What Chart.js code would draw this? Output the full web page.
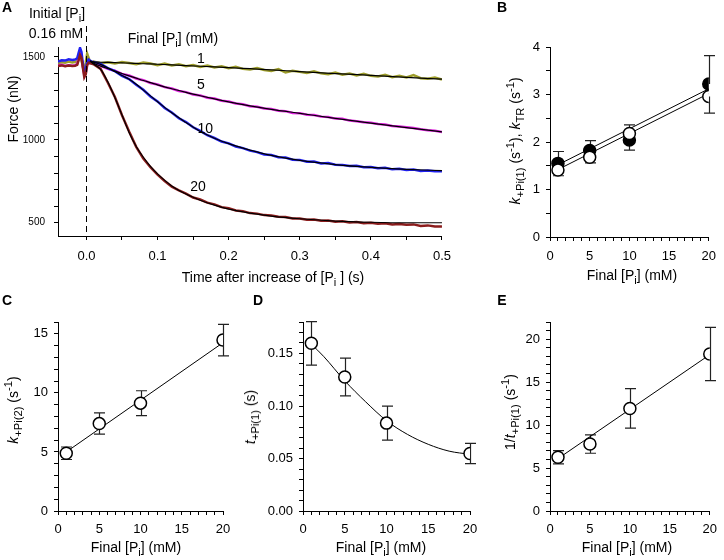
<!DOCTYPE html>
<html>
<head>
<meta charset="utf-8">
<script src="https://cdn.jsdelivr.net/npm/chart.js@4.4.0/dist/chart.umd.min.js"></script>
<style>
  body { margin: 0; background: #fff; }
  #fig { position: relative; width: 724px; height: 560px; overflow: hidden;
         font-family: "Liberation Sans", Arial, sans-serif; color: #000; background: #fff; }
  #fig canvas { position: absolute; }
  .t { position: absolute; white-space: nowrap; font-size: 14px; line-height: 1; transform: translate(-50%, -50%); }
  .rot { transform: translate(-50%, -50%) rotate(-90deg); }
  .pl { font-weight: bold; font-size: 14px; }
  sub, sup { font-size: 80%; line-height: 0; position: relative; vertical-align: baseline; }
  sub { bottom: -0.35em; }
  sup { top: -0.5em; }
</style>
</head>
<body>
<div id="fig">
  <canvas id="cA" width="460" height="270" style="left:0;top:0"></canvas>
  <canvas id="cB" width="254" height="270" style="left:470px;top:0"></canvas>
  <canvas id="cC" width="240" height="270" style="left:0;top:290px"></canvas>
  <canvas id="cD" width="245" height="270" style="left:240px;top:290px"></canvas>
  <canvas id="cE" width="239" height="270" style="left:485px;top:290px"></canvas>

  <div class="t pl" style="left:7px;top:7px">A</div>
  <div class="t pl" style="left:502px;top:7px">B</div>
  <div class="t pl" style="left:7px;top:300px">C</div>
  <div class="t pl" style="left:258px;top:300px">D</div>
  <div class="t pl" style="left:502px;top:300px">E</div>

  <div class="t" style="left:57px;top:13px">Initial [P<sub>i</sub>]</div>
  <div class="t" style="left:56px;top:33px">0.16 mM</div>
  <div class="t" style="left:173px;top:38px">Final [P<sub>i</sub>] (mM)</div>
  <div class="t rot" style="left:13px;top:109px">Force (nN)</div>
  <div class="t" style="left:273px;top:277px">Time after increase of [P<sub>i</sub> ] (s)</div>

  <div class="t rot" style="left:515px;top:141px"><i>k</i><sub>+Pi(1)</sub> (s<sup>-1</sup>), <i>k</i><sub>TR</sub> (s<sup>-1</sup>)</div>
  <div class="t" style="left:632px;top:275px">Final [P<sub>i</sub>] (mM)</div>

  <div class="t rot" style="left:13px;top:410px"><i>k</i><sub>+Pi(2)</sub> (s<sup>-1</sup>)</div>
  <div class="t" style="left:136px;top:547px">Final [P<sub>i</sub>] (mM)</div>

  <div class="t rot" style="left:250px;top:417px"><i>t</i><sub>+Pi(1)</sub> (s)</div>
  <div class="t" style="left:381px;top:547px">Final [P<sub>i</sub>] (mM)</div>

  <div class="t rot" style="left:510px;top:412px">1/<i>t</i><sub>+Pi(1)</sub> (s<sup>-1</sup>)</div>
  <div class="t" style="left:627px;top:547px">Final [P<sub>i</sub>] (mM)</div>
</div>

<script>
// ---- panel A: force after the [Pi] jump ----
const traceTime = [-0.04, -0.035, -0.03, -0.025, -0.02, -0.016, -0.013, -0.011, -0.009, -0.007, -0.005, -0.003, -0.001, 0.001, 0.003, 0.005, 0.008,
  0.01, 0.02, 0.03, 0.04, 0.05, 0.06, 0.07, 0.08, 0.09, 0.10,
  0.11, 0.12, 0.13, 0.14, 0.15, 0.16, 0.17, 0.18, 0.19, 0.20,
  0.21, 0.22, 0.23, 0.24, 0.25, 0.26, 0.27, 0.28, 0.29, 0.30,
  0.31, 0.32, 0.33, 0.34, 0.35, 0.36, 0.37, 0.38, 0.39, 0.40,
  0.41, 0.42, 0.43, 0.44, 0.45, 0.46, 0.47, 0.48, 0.49, 0.50];
const force1mM = [1462, 1468, 1465, 1472, 1466, 1470, 1474, 1490, 1505, 1480, 1440, 1425, 1465, 1520, 1495, 1470, 1466,
  1472, 1462, 1468, 1460, 1470, 1463, 1456, 1467, 1460, 1450,
  1460, 1449, 1456, 1444, 1451, 1440, 1448, 1436, 1444, 1432,
  1440, 1428, 1424, 1433, 1421, 1416, 1427, 1406, 1417, 1410,
  1403, 1414, 1401, 1396, 1406, 1393, 1400, 1388, 1398, 1386,
  1382, 1392, 1378, 1387, 1376, 1391, 1372, 1368, 1376, 1364];
const force5mM = [1448, 1452, 1446, 1450, 1447, 1450, 1458, 1490, 1518, 1500, 1440, 1390, 1405, 1455, 1470, 1468, 1462,
  1462, 1447, 1428, 1417, 1398, 1388, 1370, 1360, 1343, 1334,
  1318, 1310, 1295, 1288, 1274, 1268, 1254, 1249, 1236, 1231,
  1219, 1215, 1203, 1200, 1189, 1186, 1175, 1173, 1162, 1161,
  1152, 1150, 1140, 1138, 1128, 1127, 1116, 1112, 1106, 1103,
  1095, 1093, 1084, 1080, 1076, 1071, 1064, 1058, 1055, 1047];
const force10mM = [1472, 1480, 1478, 1486, 1482, 1484, 1492, 1525, 1555, 1530, 1460, 1405, 1420, 1470, 1484, 1478, 1470,
  1470, 1458, 1433, 1414, 1386, 1367, 1332, 1302, 1262, 1232,
  1192, 1165, 1130, 1107, 1076, 1054, 1028, 1011, 990, 979,
  960, 950, 935, 926, 912, 908, 895, 893, 880, 879,
  868, 869, 858, 860, 850, 849, 842, 844, 835, 836,
  829, 831, 822, 825, 818, 821, 812, 815, 810, 811];
const force20mM = [1446, 1449, 1444, 1448, 1445, 1447, 1452, 1480, 1512, 1495, 1435, 1378, 1395, 1450, 1465, 1462, 1458,
  1456, 1428, 1346, 1258, 1148, 1050, 958, 888, 835, 790,
  752, 718, 695, 676, 652, 640, 621, 611, 594, 588,
  574, 570, 558, 555, 546, 544, 536, 534, 526, 525,
  518, 520, 512, 514, 506, 509, 501, 504, 497, 500,
  494, 497, 490, 493, 488, 490, 481, 484, 477, 478];

const fitTime = [0.005, 0.01, 0.02, 0.03, 0.04, 0.05, 0.06, 0.07, 0.08, 0.09, 0.10, 0.12, 0.14, 0.16, 0.18, 0.20, 0.23, 0.26, 0.30, 0.35, 0.40, 0.45, 0.50];
const fit1mM = [1475, 1470, 1468, 1467, 1466, 1464, 1463, 1461, 1459, 1458, 1456, 1452, 1448, 1444, 1440, 1436, 1429, 1422, 1412, 1400, 1389, 1377, 1366];
const fit5mM = [1475, 1462, 1445, 1430, 1415, 1400, 1386, 1372, 1358, 1345, 1332, 1308, 1286, 1266, 1247, 1229, 1205, 1184, 1160, 1130, 1101, 1074, 1048];
const fit10mM = [1475, 1468, 1455, 1435, 1412, 1388, 1365, 1335, 1300, 1265, 1230, 1163, 1105, 1050, 1010, 977, 938, 906, 876, 851, 834, 822, 814];
const fit20mM = [1475, 1457, 1425, 1350, 1255, 1150, 1045, 960, 895, 840, 795, 722, 673, 636, 606, 582, 558, 540, 524, 510, 503, 500, 500];

const forceTicks = [500, 1000, 1500];
const timeTicks = [0, 0.1, 0.2, 0.3, 0.4, 0.5];

// ---- panels B-E: rates vs final [Pi] ----
const finalPi = [1, 5, 10, 20];
const fitEnds = [1, 20];

const kPi1 = [1.55, 1.82, 2.04, 3.22];
const kPi1Up = [0.25, 0.21, 0, 0.6];
const kPi1Down = [0, 0, 0.21, 0];
const kPi1Fit = [1.52, 3.12];
const kTR = [1.41, 1.68, 2.18, 2.96];
const kTRUp = [0, 0, 0.18, 0];
const kTRDown = [0.12, 0.12, 0, 0.35];
const kTRFit = [1.42, 3.02];

const kPi2 = [4.89, 7.4, 9.13, 14.47];
const kPi2Err = [0.53, 0.9, 1.05, 1.33];
const kPi2Fit = [5.0, 14.25];

const tPi1 = [0.1597, 0.1276, 0.0837, 0.0548];
const tPi1Err = [0.0207, 0.018, 0.0162, 0.0096];
const tPi1FitX = [1, 2.5, 5, 7.5, 10, 12.5, 15, 17.5, 20];
const tPi1FitY = [0.159, 0.147, 0.124, 0.104, 0.086, 0.073, 0.0635, 0.057, 0.054];

const invTPi1 = [6.26, 7.79, 11.94, 18.28];
const invTPi1Err = [0.77, 1.07, 2.3, 3.1];
const invTPi1Fit = [6.1, 18.2];

const piTicks = [0, 5, 10, 15, 20];
const rateTicksB = [0, 1, 2, 3, 4];
const rateTicksC = [0, 5, 10, 15];
const timeTicksD = [0, 0.05, 0.10, 0.15];
const rateTicksE = [0, 5, 10, 15, 20];

const curveLabels = [
  { text: '1', t: 0.161, f: 1486 },
  { text: '5', t: 0.161, f: 1331 },
  { text: '10', t: 0.167, f: 1066 },
  { text: '20', t: 0.157, f: 717 }
];

const FONT = '"Liberation Sans", Arial, sans-serif';
Chart.defaults.font.family = FONT;
Chart.defaults.color = '#000';

const pts = (xs, ys) => xs.map((x, i) => ({ x, y: ys[i] }));

function axis(min, max, majors, minorStep, fmt, size, pad, fitSize, isX) {
  return {
    type: 'linear', min, max,
    border: { display: true, color: '#000', width: 1 },
    grid: { drawOnChartArea: false, drawTicks: true, tickLength: 4, color: '#000', lineWidth: 1 },
    ticks: {
      autoSkip: false, maxRotation: 0, padding: pad, color: '#000', font: { size },
      callback: v => majors.some(m => Math.abs(m - v) < 1e-9) ? fmt(v) : ''
    },
    afterBuildTicks: s => {
      const vals = [];
      for (let i = Math.ceil(min / minorStep - 1e-6); i * minorStep <= max + 1e-9; i++) {
        vals.push(+(i * minorStep).toFixed(6));
      }
      s.ticks = vals.map(v => ({ value: v }));
    },
    afterFit: s => { if (isX) s.height = fitSize; else s.width = fitSize; }
  };
}

const errorBars = {
  id: 'errorBars',
  beforeDatasetsDraw(chart) {
    const { ctx, scales: { x, y } } = chart;
    ctx.save();
    ctx.strokeStyle = '#222';
    ctx.lineWidth = 1.2;
    chart.data.datasets.forEach(ds => {
      if (!ds.errUp) return;
      ds.data.forEach((p, i) => {
        const px = Math.round(x.getPixelForValue(p.x)) + 0.5;
        const top = y.getPixelForValue(p.y + ds.errUp[i]);
        const bot = y.getPixelForValue(p.y - ds.errDown[i]);
        ctx.beginPath();
        ctx.moveTo(px, top); ctx.lineTo(px, bot);
        if (ds.errUp[i] > 0) { ctx.moveTo(px - 5.5, top); ctx.lineTo(px + 5.5, top); }
        if (ds.errDown[i] > 0) { ctx.moveTo(px - 5.5, bot); ctx.lineTo(px + 5.5, bot); }
        ctx.stroke();
      });
    });
    ctx.restore();
  }
};

const panelAMarks = {
  id: 'panelAMarks',
  afterDatasetsDraw(chart) {
    const { ctx, chartArea, scales: { x, y } } = chart;
    const px = Math.round(x.getPixelForValue(0)) + 0.5;
    ctx.save();
    ctx.strokeStyle = '#000';
    ctx.lineWidth = 1;
    ctx.setLineDash([6, 4]);
    ctx.beginPath();
    ctx.moveTo(px, 26);
    ctx.lineTo(px, chartArea.bottom);
    ctx.stroke();
    ctx.setLineDash([]);
    ctx.font = '14px ' + FONT;
    ctx.fillStyle = '#000';
    ctx.textAlign = 'center';
    ctx.textBaseline = 'middle';
    curveLabels.forEach(l => ctx.fillText(l.text, x.getPixelForValue(l.t), y.getPixelForValue(l.f)));
    ctx.restore();
  }
};

const baseOpts = (padding, scales) => ({
  responsive: false, animation: false, devicePixelRatio: 1,
  layout: { padding },
  plugins: { legend: { display: false }, tooltip: { enabled: false } },
  scales
});

const lineDs = (data, color, width, extra) => Object.assign({
  data, showLine: true, borderColor: color, borderWidth: width, pointRadius: 0, fill: false
}, extra || {});

const openPts = (data, up, down) => ({
  data, showLine: false, pointRadius: 6, pointBorderWidth: 1.5,
  pointBackgroundColor: '#fff', pointBorderColor: '#000', errUp: up, errDown: down
});

// panel A
new Chart(document.getElementById('cA'), {
  type: 'scatter',
  data: {
    datasets: [
      lineDs(pts(fitTime, fit1mM), '#000', 1.2, { cubicInterpolationMode: 'monotone' }),
      lineDs(pts(fitTime, fit5mM), '#000', 1.2, { cubicInterpolationMode: 'monotone' }),
      lineDs(pts(fitTime, fit10mM), '#000', 1.2, { cubicInterpolationMode: 'monotone' }),
      lineDs(pts(fitTime, fit20mM), '#000', 1.2, { cubicInterpolationMode: 'monotone' }),
      lineDs(pts(traceTime, force20mM), '#8b1c1c', 2.5),
      lineDs(pts(traceTime, force10mM), '#2020f0', 2.5),
      lineDs(pts(traceTime, force5mM), '#e020e0', 2.5),
      lineDs(pts(traceTime, force1mM), '#9e9e2c', 2.5)
    ]
  },
  options: baseOpts({ left: 0, top: 47, right: 14, bottom: 0 }, {
    x: axis(-0.04, 0.5, timeTicks, 0.05, v => v.toFixed(1), 13, 9, 34, true),
    y: axis(420, 1560, forceTicks, 100, v => String(v), 10, 9, 58, false)
  }),
  plugins: [panelAMarks]
});

// panel B
new Chart(document.getElementById('cB'), {
  type: 'scatter',
  data: {
    datasets: [
      openPts(pts(finalPi, kTR), kTRUp, kTRDown),
      Object.assign(openPts(pts(finalPi, kPi1), kPi1Up, kPi1Down), { pointBackgroundColor: '#000' }),
      lineDs(pts(fitEnds, kTRFit), '#000', 1),
      lineDs(pts(fitEnds, kPi1Fit), '#000', 1)
    ]
  },
  options: baseOpts({ left: 0, top: 47, right: 8, bottom: 0 }, {
    x: axis(0, 20, piTicks, 1, v => String(v), 13, 8, 33, true),
    y: axis(0, 4, rateTicksB, 0.5, v => String(v), 13, 6, 80, false)
  }),
  plugins: [errorBars]
});

// panel C
new Chart(document.getElementById('cC'), {
  type: 'scatter',
  data: {
    datasets: [
      openPts(pts(finalPi, kPi2), kPi2Err, kPi2Err),
      lineDs(pts(fitEnds, kPi2Fit), '#000', 1)
    ]
  },
  options: baseOpts({ left: 0, top: 32, right: 17, bottom: 0 }, {
    x: axis(0, 20, piTicks, 1, v => String(v), 13, 7, 49, true),
    y: axis(0, 16, rateTicksC, 1, v => String(v), 13, 6, 58, false)
  }),
  plugins: [errorBars]
});

// panel D
new Chart(document.getElementById('cD'), {
  type: 'scatter',
  data: {
    datasets: [
      openPts(pts(finalPi, tPi1), tPi1Err, tPi1Err),
      lineDs(pts(tPi1FitX, tPi1FitY), '#000', 1, { cubicInterpolationMode: 'monotone' })
    ]
  },
  options: baseOpts({ left: 0, top: 32, right: 15, bottom: 0 }, {
    x: axis(0, 20, piTicks, 1, v => String(v), 13, 7, 49, true),
    y: axis(0, 0.18, timeTicksD, 0.01, v => v.toFixed(2), 13, 6, 63, false)
  }),
  plugins: [errorBars]
});

// panel E
new Chart(document.getElementById('cE'), {
  type: 'scatter',
  data: {
    datasets: [
      openPts(pts(finalPi, invTPi1), invTPi1Err, invTPi1Err),
      lineDs(pts(fitEnds, invTPi1Fit), '#000', 1)
    ]
  },
  options: baseOpts({ left: 0, top: 32, right: 8, bottom: 0 }, {
    x: axis(0, 20, piTicks, 1, v => String(v), 13, 7, 49, true),
    y: axis(0, 22, rateTicksE, 1, v => String(v), 13, 6, 65, false)
  }),
  plugins: [errorBars]
});
</script>
</body>
</html>
